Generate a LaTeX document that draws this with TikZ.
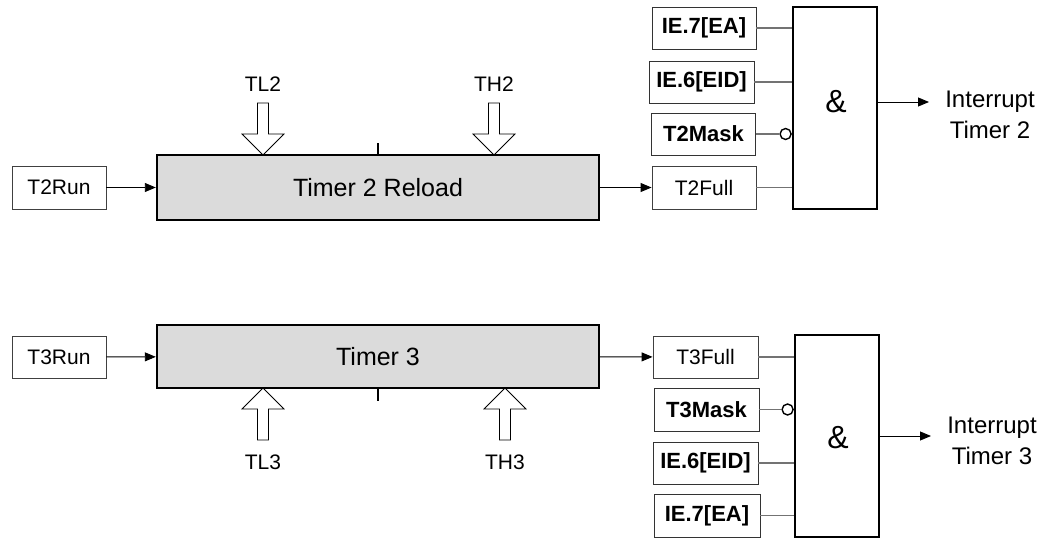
\documentclass[tikz,border=0pt]{standalone}
\usepackage{fontspec}
\setmainfont{Liberation Sans}
\usetikzlibrary{arrows.meta,positioning}

\begin{document}
\begin{tikzpicture}[x=1pt,y=-1pt,
  lbl/.style={draw=black!75,line width=0.9pt,inner sep=0pt,minimum width=104pt,minimum height=42pt,font=\fontsize{21}{25}\selectfont},
  bitlbl/.style={lbl,font=\fontsize{22}{26}\selectfont\bfseries},
  timerbox/.style={draw,line width=2.4pt,fill=black!14,minimum width=442pt,minimum height=64pt,font=\fontsize{25}{30}\selectfont},
  andgate/.style={draw,line width=2.4pt,minimum width=84pt,minimum height=202pt,font=\fontsize{32}{36}\selectfont},
  sig/.style={line width=0.9pt,-{Triangle[length=11pt,width=9pt]}},
  gin/.style={draw=black!55,line width=1.2pt},
  bubble/.style={circle,draw,line width=1.4pt,fill=white,inner sep=0pt,minimum size=11pt},
  plain/.style={font=\fontsize{21}{25}\selectfont},
  loadarrow/.pic={\draw[line width=0.8pt,fill=white] (0,0) -- (21,-21) -- (5.5,-21) -- (5.5,-52)
     -- (-5.5,-52) -- (-5.5,-21) -- (-21,-21) -- cycle;}]
\useasboundingbox (0,0) rectangle (1045,538);

% Timer 2
\node[lbl,minimum width=94pt,minimum height=43pt] (run2) at (59,187.5) {T2Run};
\node[timerbox,minimum height=65pt] (tmr2) at (378,187.5) {Timer 2 Reload};
\node[lbl,minimum height=43pt] (full2) at (704,187.5) {T2Full};
\node[bitlbl,draw=black!80] (mask2) at (703.5,134) {T2Mask};
\node[bitlbl,draw=black!80,minimum width=105pt] (eid2) at (701.5,82) {IE.6[EID]};
\node[bitlbl,draw=black!80] (ea2) at (704,28) {IE.7[EA]};
\node[andgate] (gate2) at (835,108) {};
\node[font=\fontsize{32}{36}\selectfont] (amp2) at (836,102) {\&};
\node[align=center,font=\fontsize{24}{31}\selectfont] (int2) at (990,115) {Interrupt\\Timer 2};
\coordinate (out2) at (929,102);
\node[plain] (tl2) at (263,84) {TL2};
\node[plain] (th2) at (494,84) {TH2};
\pic at (263,155) {loadarrow};
\pic at (494,155) {loadarrow};
\draw[line width=1.2pt] (tmr2.north) -- ++(0,-11);

\draw[sig] (run2) -- (tmr2);
\draw[sig] (tmr2) -- (full2);
\draw[gin] (ea2) -- (ea2 -| gate2.west);
\draw[gin] (eid2) -- (eid2 -| gate2.west);
\draw[gin] (full2) -- (full2 -| gate2.west);
\node[bubble,anchor=east] (neg2) at (mask2 -| gate2.west) {};
\draw[gin] (mask2) -- (neg2);
\draw[sig] (gate2.east |- out2) -- (out2);

% Timer 3
\node[lbl,minimum width=94pt] (run3) at (59,357) {T3Run};
\node[timerbox,minimum height=63pt] (tmr3) at (378,356.5) {Timer 3};
\node[lbl,minimum width=105pt] (full3) at (705.5,357) {T3Full};
\node[bitlbl,draw=black!80,minimum width=105pt,minimum height=43pt] (mask3) at (706.5,409.5) {T3Mask};
\node[bitlbl,draw=black!80,minimum width=105pt] (eid3) at (705.5,463) {IE.6[EID]};
\node[bitlbl,draw=black!80,minimum width=106pt,minimum height=43pt] (ea3) at (707,515.5) {IE.7[EA]};
\node[andgate] (gate3) at (837,436) {};
\node[font=\fontsize{32}{36}\selectfont] (amp3) at (838,438) {\&};
\node[align=center,font=\fontsize{24}{31}\selectfont] (int3) at (992,441) {Interrupt\\Timer 3};
\coordinate (out3) at (931,436);
\node[plain] (tl3) at (263,462) {TL3};
\node[plain] (th3) at (505,462) {TH3};
\pic[yscale=-1] at (263,388) {loadarrow};
\pic[yscale=-1] at (505,388) {loadarrow};
\draw[line width=1.2pt] (tmr3.south) -- ++(0,12);

\draw[sig] (run3) -- (tmr3);
\draw[sig] (tmr3) -- (full3);
\draw[gin] (full3) -- (full3 -| gate3.west);
\draw[gin] (eid3) -- (eid3 -| gate3.west);
\draw[gin] (ea3) -- (ea3 -| gate3.west);
\node[bubble,anchor=east] (neg3) at (mask3 -| gate3.west) {};
\draw[gin] (mask3) -- (neg3);
\draw[sig] (gate3.east |- out3) -- (out3);
\end{tikzpicture}
\end{document}
